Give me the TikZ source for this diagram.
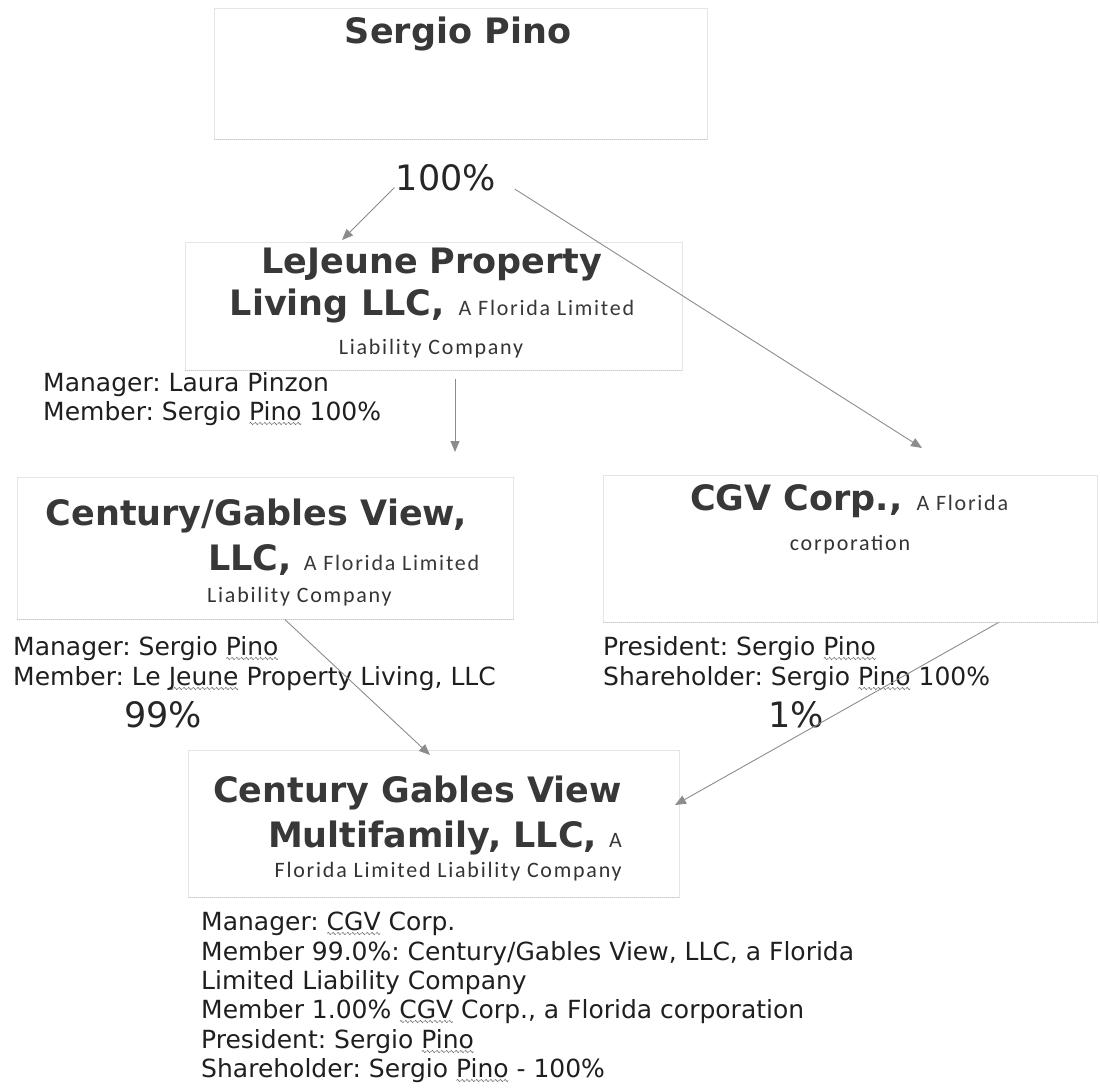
\documentclass[tikz,border=0pt]{standalone}
\usepackage{fontspec}
\usetikzlibrary{arrows.meta}
\usetikzlibrary{calc}
\setmainfont{DejaVu Sans}
\newfontfamily\smallfont[LetterSpace=8]{Carlito}
\definecolor{edge}{gray}{0.9}
\definecolor{foot}{gray}{0.78}
\definecolor{wire}{gray}{0.55}
\newsavebox\spellbox
\newcommand\wavelet{\tikz[x=1pt, y=1pt]\draw[black!55, line width=0.6pt] (0,0) sin (1,1.2) cos (2,0) sin (3,-1.2) cos (4,0);}
\newcommand\spellmark[1]{\sbox\spellbox{#1}\rlap{\smash{\lower5pt\hbox to\wd\spellbox{\xleaders\hbox{\wavelet}\hfil}}}\usebox\spellbox}
\newcommand\tagfont{\smallfont\mdseries\fontsize{22}{26}\selectfont}
\frenchspacing

\begin{document}
\begin{tikzpicture}[x=1pt, y=-1pt,
    box/.style={draw=edge, line width=1pt},
    boxfoot/.style={draw=foot, line width=1pt, densely dotted},
    title/.style={inner sep=0pt, text=black!78, font=\fontsize{35}{42}\selectfont\bfseries},
    tag/.style={inner sep=0pt, text=black!80, font=\tagfont},
    note/.style={inner sep=0pt, text=black!88, font=\fontsize{25}{30}\selectfont},
    pct/.style={inner sep=0pt, text=black!85, font=\fontsize{35}{42}\selectfont},
    link/.style={draw=wire, line width=0.9pt, -{Triangle[length=11pt,width=9pt]}}]
  \useasboundingbox (0,0) rectangle (1100,1087);

  % owner
  \node[box, minimum width=493pt, minimum height=131pt] (pino) at (460.5,73.5) {};
  \node[title, anchor=base] (pinoname) at (458,43) {Sergio Pino};
  \node[pct, anchor=base] (pct100) at (446,190) {100\%};

  % LeJeune Property Living
  \node[box, minimum width=497pt, minimum height=128pt] (lejeune) at (433.5,306) {};
  \node[title, anchor=base] (lj1) at (432,273) {LeJeune Property};
  \node[title, anchor=base] (lj2) at (432,315) {Living LLC,\hspace{14pt}{\tagfont A Florida Limited}};
  \node[tag, anchor=base] (lj3) at (431,354) {Liability Company};
  \node[note, anchor=base west] (ljman) at (43,391) {Manager: Laura Pinzon};
  \node[note, anchor=base west] (ljmem) at (43,420) {Member: Sergio \spellmark{Pino} 100\%};

  % Century/Gables View
  \node[box, minimum width=496pt, minimum height=142pt] (cgview) at (265,548) {};
  \node[title, anchor=base] (cg1) at (256,525) {Century/Gables View,};
  \node[title, anchor=base west] (cg2) at (208,570) {LLC,\hspace{12pt}{\tagfont A Florida Limited}};
  \node[tag, anchor=base west] (cg3) at (207,602) {Liability Company};
  \node[note, anchor=base west] (cgman) at (13,655) {Manager: Sergio \spellmark{Pino}};
  \node[note, anchor=base west] (cgmem) at (13,685) {Member: Le \spellmark{Jeune} Property Living, LLC};
  \node[pct, anchor=base] (pct99) at (163,727) {99\%};

  % CGV Corp.
  \node[box, minimum width=494pt, minimum height=147pt] (cgv) at (850,548.5) {};
  \node[title, anchor=base west] (cgv1) at (690,510) {CGV Corp.,\hspace{14pt}{\tagfont A Florida}};
  \node[tag, anchor=base] (cgv2) at (850,550) {corporation};
  \node[note, anchor=base west] (cgvpres) at (603,655) {President: Sergio \spellmark{Pino}};
  \node[note, anchor=base west] (cgvshr) at (603,685) {Shareholder: Sergio \spellmark{Pino} 100\%};
  \node[pct, anchor=base] (pct1) at (796,727) {1\%};

  % Century Gables View Multifamily
  \node[box, minimum width=491pt, minimum height=147pt] (multi) at (433.5,823.5) {};
  \node[title, anchor=base] (mf1) at (417.5,802) {Century Gables View};
  \node[title, anchor=base east] (mf2) at (622,847) {Multifamily, LLC,\hspace{12pt}{\tagfont A}};
  \node[tag, anchor=base east] (mf3) at (622,877) {Florida Limited Liability Company};
  \node[note, anchor=base west] (mfa) at (201,930) {Manager: \spellmark{CGV} Corp.};
  \node[note, anchor=base west] (mfb) at (201,960) {Member 99.0\%: Century/Gables View, LLC, a Florida};
  \node[note, anchor=base west] (mfc) at (201,989) {Limited Liability Company};
  \node[note, anchor=base west] (mfd) at (201,1018) {Member 1.00\% \spellmark{CGV} Corp., a Florida corporation};
  \node[note, anchor=base west] (mfe) at (201,1048) {President: Sergio \spellmark{Pino}};
  \node[note, anchor=base west] (mff) at (201,1077) {Shareholder: Sergio \spellmark{Pino} - 100\%};

  % shaded bottom edges
  \draw[boxfoot] (pino.south west) -- (pino.south east);
  \draw[boxfoot] (lejeune.south west) -- (lejeune.south east);
  \draw[boxfoot] (cgview.south west) -- (cgview.south east);
  \draw[boxfoot] (cgv.south west) -- (cgv.south east);
  \draw[boxfoot] (multi.south west) -- (multi.south east);

  % ownership arrows
  \coordinate (ljtip) at (342,240);
  \coordinate (cgvtip) at (922,448);
  \coordinate (cgtip) at (455,452);
  \coordinate (mftipL) at (430,755);
  \coordinate (mftipR) at (675,805);
  \draw[link, shorten <=2pt] (pct100.190) -- (ljtip);
  \draw[link, shorten <=22pt] (pct100.east) -- (cgvtip);
  \draw[link, shorten <=8pt] (lejeune.south -| cgtip) -- (cgtip);
  \draw[link] ($(cgview.south west)!0.54!(cgview.south east)$) -- (mftipL);
  \draw[link] ($(cgv.south west)!0.8!(cgv.south east)$) -- (mftipR);
\end{tikzpicture}
\end{document}
